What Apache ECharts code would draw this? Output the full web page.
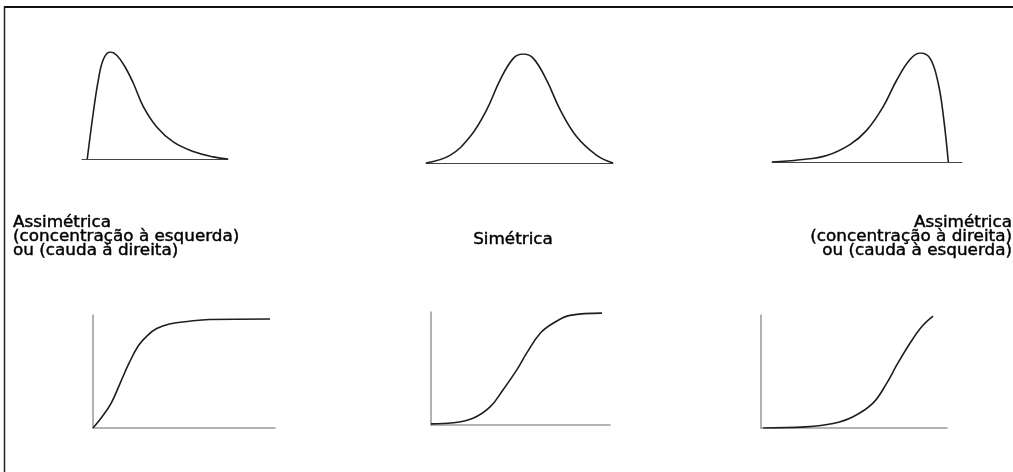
<!DOCTYPE html>
<html>
<head>
<meta charset="utf-8">
<script src="https://cdn.jsdelivr.net/npm/echarts@6/dist/echarts.min.js"></script>
<style>html,body{margin:0;padding:0;background:#fff}#c{width:1013px;height:472px}</style>
</head>
<body>
<div id="c"></div>
<script>
// Density curves (x in 0..10, relative height 0..1)
var leftSkewX  = [0.36, 0.77, 1.12, 1.46, 1.92, 2.38, 2.95, 3.51, 4.2, 5.12, 6.25, 7.62, 9.0, 10];
var leftSkewY  = [0, 0.43, 0.74, 0.93, 1.0, 0.97, 0.86, 0.71, 0.49, 0.30, 0.16, 0.07, 0.02, 0];
var symX       = [0, 1.28, 2.35, 3.25, 3.96, 4.67, 5.2, 5.74, 6.45, 7.17, 8.06, 9.13, 10];
var symY       = [0, 0.07, 0.24, 0.49, 0.76, 0.96, 1.0, 0.96, 0.76, 0.49, 0.24, 0.07, 0];
var rightSkewX = [0, 1.47, 2.88, 4.1, 4.98, 5.86, 6.56, 7.26, 7.79, 8.32, 8.75, 9.02, 9.28];
var rightSkewY = [0, 0.02, 0.06, 0.16, 0.29, 0.51, 0.75, 0.94, 1.0, 0.95, 0.72, 0.42, 0];
// Cumulative curves
var cumLeftX   = [0, 0.5, 1.0, 1.5, 2.0, 2.5, 3.0, 3.5, 4.2, 5.3, 6.4, 9.73];
var cumLeftY   = [0, 0.10, 0.22, 0.40, 0.58, 0.73, 0.82, 0.88, 0.92, 0.945, 0.96, 0.965];
var cumSymX    = [0, 1.23, 2.35, 3.3, 4.02, 4.8, 5.36, 6.09, 6.82, 7.77, 9.55];
var cumSymY    = [0.01, 0.02, 0.06, 0.16, 0.31, 0.49, 0.64, 0.81, 0.90, 0.97, 0.99];
var cumRightX  = [0.11, 2.37, 3.87, 4.95, 6.02, 6.77, 7.31, 8.01, 8.66, 9.25];
var cumRightY  = [0, 0.01, 0.04, 0.10, 0.22, 0.40, 0.56, 0.75, 0.90, 0.99];
// Labels
var labelLeft  = ['Assimétrica', '(concentração à esquerda)', 'ou (cauda à direita)'];
var labelMid   = ['Simétrica'];
var labelRight = ['Assimétrica', '(concentração à direita)', 'ou (cauda à esquerda)'];

function pairs(xs, ys){ return xs.map(function(x,i){ return [x, ys[i]]; }); }

var grids = [
  {left: 82,  top: 52,  width: 146, height: 107},
  {left: 426, top: 54,  width: 187, height: 109},
  {left: 772, top: 53,  width: 190, height: 109},
  {left: 93,  top: 315, width: 182, height: 113},
  {left: 431, top: 312, width: 179, height: 113},
  {left: 761, top: 315, width: 186, height: 113}
];
var curves = [
  pairs(leftSkewX, leftSkewY), pairs(symX, symY), pairs(rightSkewX, rightSkewY),
  pairs(cumLeftX, cumLeftY), pairs(cumSymX, cumSymY), pairs(cumRightX, cumRightY)
];

var xAxes = [], yAxes = [], series = [];
grids.forEach(function(g, i){
  var bottomRow = i >= 3;
  xAxes.push({
    type: 'value', gridIndex: i, min: 0, max: 10,
    axisLine: {show: true, onZero: false, lineStyle: {color: bottomRow ? '#9a9a9a' : '#444', width: bottomRow ? 1.5 : 1}},
    axisTick: {show: false}, axisLabel: {show: false}, splitLine: {show: false}
  });
  yAxes.push({
    type: 'value', gridIndex: i, min: 0, max: 1,
    axisLine: {show: bottomRow, onZero: false, lineStyle: {color: '#9a9a9a', width: 1.5}},
    axisTick: {show: false}, axisLabel: {show: false}, splitLine: {show: false}
  });
  series.push({
    type: 'line', xAxisIndex: i, yAxisIndex: i, data: curves[i],
    smooth: 0.4, showSymbol: false, silent: true,
    lineStyle: {color: '#1e1e1e', width: 1.6}
  });
});

var textStyle = function(lines, align){
  return {text: lines.join('\n'), fontFamily: 'DejaVu Sans', fontSize: 15, lineHeight: 14,
          fill: '#000', stroke: '#000', lineWidth: 0.4,
          textAlign: align, textVerticalAlign: 'top'};
};

var option = {
  animation: false,
  backgroundColor: '#fff',
  grid: grids.map(function(g){ return Object.assign({containLabel: false}, g); }),
  xAxis: xAxes,
  yAxis: yAxes,
  series: series,
  graphic: [
    {type: 'line', shape: {x1: 4, y1: 7, x2: 1013, y2: 7}, style: {stroke: '#111', lineWidth: 2}},
    {type: 'line', shape: {x1: 4.5, y1: 6, x2: 4.5, y2: 472}, style: {stroke: '#222', lineWidth: 1.5}},
    {type: 'text', x: 13, y: 216, scaleX: 1.12, style: textStyle(labelLeft, 'left')},
    {type: 'text', x: 513, y: 233, scaleX: 1.12, style: textStyle(labelMid, 'center')},
    {type: 'text', x: 1012, y: 216, scaleX: 1.12, style: textStyle(labelRight, 'right')}
  ]
};
var chart = echarts.init(document.getElementById('c'), null, {renderer: 'canvas'});
chart.setOption(option);
</script>
</body>
</html>
